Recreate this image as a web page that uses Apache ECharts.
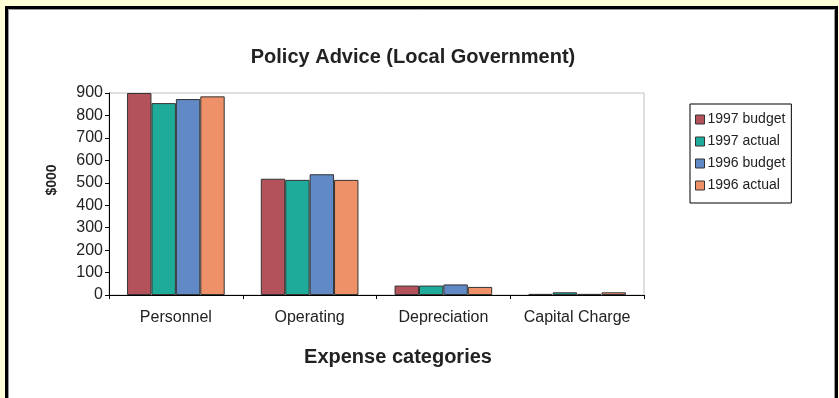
<!DOCTYPE html>
<html><head><meta charset="utf-8">
<script src="https://cdn.jsdelivr.net/npm/echarts@6/dist/echarts.min.js"></script>
<style>html,body{margin:0;padding:0;background:#ffffd8;}#c{width:839px;height:398px;}</style>
</head><body><div id="c"></div>
<script>
const categories = ['Personnel', 'Operating', 'Depreciation', 'Capital Charge'];
const seriesNames = ['1997 budget', '1997 actual', '1996 budget', '1996 actual'];
const budget1997 = [900, 518, 42, 5];
const actual1997 = [855, 513, 42, 12];
const budget1996 = [873, 538, 47, 5];
const actual1996 = [885, 513, 36, 12];
const yTicks = [0, 100, 200, 300, 400, 500, 600, 700, 800, 900];
const colors = ['#b4525c', '#1fab9a', '#6089c6', '#ee9068'];
const values = [budget1997, actual1997, budget1996, actual1996];
const font = 'Liberation Sans, Arial, sans-serif';

const chart = echarts.init(document.getElementById('c'), null, {renderer: 'canvas'});
chart.setOption({
  backgroundColor: '#ffffd8',
  animation: false,
  graphic: [
    {type: 'rect', z: -10, shape: {x: 6.5, y: 7.5, width: 830, height: 420}, style: {fill: '#ffffff', stroke: '#000', lineWidth: 3}},
    {type: 'rect', z: -9, shape: {x: 8.5, y: 9.5, width: 826, height: 420}, style: {fill: 'none', stroke: '#999', lineWidth: 1}},
    {type: 'text', x: 52, y: 180, rotation: Math.PI / 2, style: {text: '$000', font: 'bold 14px ' + font, fill: '#222', textAlign: 'center', textVerticalAlign: 'middle'}}
  ],
  title: [
    {text: 'Policy Advice (Local Government)', left: 408, top: 42, textAlign: 'center',
     textStyle: {fontFamily: font, fontWeight: 'bold', fontSize: 20, color: '#222'}},
    {text: 'Expense categories', left: 393, top: 342, textAlign: 'center',
     textStyle: {fontFamily: font, fontWeight: 'bold', fontSize: 20, color: '#222'}}
  ],
  legend: {
    orient: 'vertical', left: 690, top: 104,
    data: seriesNames,
    icon: 'rect', itemWidth: 9, itemHeight: 9, itemGap: 7,
    padding: [8, 6, 10, 5],
    borderColor: '#000', borderWidth: 1,
    textStyle: {fontFamily: font, fontSize: 14, color: '#222', lineHeight: 15, padding: [0, 0, 0, -2]},
    itemStyle: {borderColor: '#333', borderWidth: 1}
  },
  grid: {left: 109, right: 195, top: 93, bottom: 103, show: true, borderColor: '#c0c0c0', borderWidth: 1, backgroundColor: 'transparent'},
  xAxis: {
    type: 'category', data: categories,
    axisLine: {lineStyle: {color: '#000', width: 1}},
    axisTick: {show: true, interval: 0, length: 4, lineStyle: {color: '#000'}},
    axisLabel: {interval: 0, fontFamily: font, fontSize: 16, color: '#222', margin: 15}
  },
  yAxis: {
    type: 'value', min: yTicks[0], max: yTicks[yTicks.length - 1], interval: 100,
    axisLine: {show: true, lineStyle: {color: '#000', width: 1}},
    axisTick: {show: true, length: 4, lineStyle: {color: '#000'}},
    splitLine: {show: false},
    axisLabel: {fontFamily: font, fontSize: 16, color: '#222', margin: 6}
  },
  series: seriesNames.map((n, i) => ({
    name: n, type: 'bar', data: values[i],
    barGap: '0%', barCategoryGap: '27%',
    itemStyle: {color: colors[i], borderColor: '#333', borderWidth: 1}
  }))
});
</script></body></html>
